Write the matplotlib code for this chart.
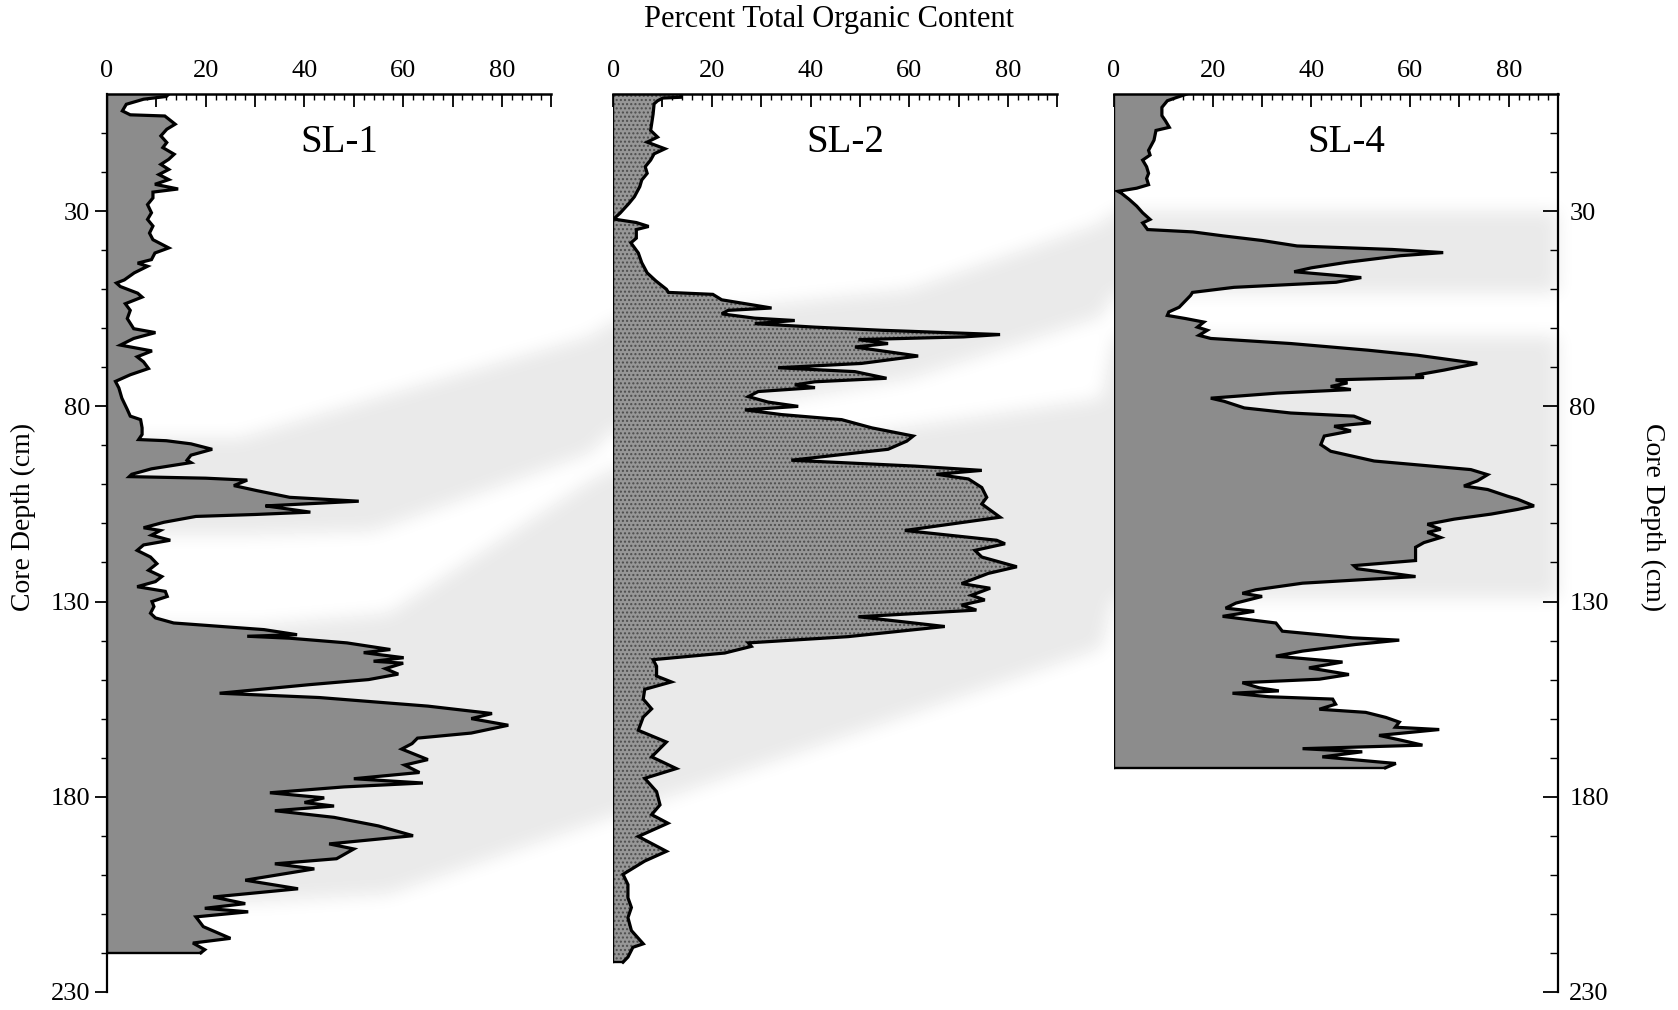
import numpy as np
import matplotlib
matplotlib.use("Agg")
import matplotlib.pyplot as plt
from matplotlib.path import Path
from matplotlib.ticker import MultipleLocator, FixedLocator, FuncFormatter, NullFormatter

plt.rcParams['font.family'] = ['Liberation Serif', 'DejaVu Serif']
plt.rcParams['hatch.linewidth'] = 1.0

# ---------------------------------------------------------------- data
# SL-1 : core depth (cm) and percent total organic content
sl1_depth = [0, 0.6, 1.3, 2.6, 4.3, 5.3, 5.6, 7.7, 9.0, 10.7, 12.4, 13.7, 15.4, 16.7, 18.0,
             19.3, 20.6, 21.9, 23.1, 24.3, 25.1, 26.6, 28.3, 30.4, 32.1, 33.8, 35.6, 37.3,
             39.4, 40.7, 42.4, 43.3, 44.1, 45.8, 47.6, 48.4, 49.3, 51.0, 52.0, 53.7, 55.4,
             57.5, 60.1, 61.1, 62.6, 64.3, 65.8, 67.3, 68.6, 70.3, 71.9, 73.6, 75.3, 77.9,
             80.8, 82.5, 83.4, 85.5, 87.2, 88.5, 88.8, 89.6, 91.0, 92.5, 93.8, 94.4, 96.0,
             97.4, 98.0, 98.4, 98.9, 100.3, 101.6, 103.3, 104.3, 105.0, 105.5, 106.0, 107.1,
             107.7, 108.2, 109.7, 111.1, 111.8, 113.0, 114.3, 115.5, 116.9, 118.6, 120.3,
             122.0, 123.6, 124.9, 126.2, 127.4, 128.7, 130.0, 131.3, 133.0, 134.2, 135.5,
             137.2, 138.5, 138.9, 139.4, 140.6, 142.3, 143.1, 144.4, 145.3, 145.8, 147.2,
             148.6, 150.0, 151.3, 153.5, 154.6, 156.8, 158.7, 160.0, 161.7, 163.7, 165.0,
             166.4, 167.8, 170.5, 171.9, 173.8, 175.4, 176.5, 177.5, 179.0, 180.3, 181.5,
             182.4, 183.6, 185.3, 187.5, 190.0, 192.1, 193.4, 195.9, 197.2, 198.5, 201.4,
             203.6, 205.7, 207.4, 208.6, 209.5, 210.8, 213.3, 216.3, 217.5, 219.2, 220.0]
sl1_toc = [12.5, 12.0, 7.4, 3.9, 3.1, 4.7, 11.7, 13.8, 12.1, 10.9, 12.1, 11.3, 13.6, 12.5, 10.9,
           12.5, 10.5, 12.5, 9.7, 14.4, 9.3, 9.3, 8.2, 9.0, 8.2, 9.3, 8.6, 9.3,
           12.5, 9.7, 9.0, 6.2, 8.2, 5.5, 3.5, 1.9, 2.7, 6.2, 7.1, 3.7, 4.7,
           4.1, 5.4, 9.8, 5.4, 2.7, 9.1, 6.1, 7.4, 8.4, 4.7, 1.7, 2.4, 3.0,
           4.1, 4.7, 6.8, 7.1, 7.1, 6.4, 12.0, 17.0, 21.3, 17.0, 16.2, 17.0, 9.0,
           5.0, 4.5, 20.0, 28.4, 25.7, 30.4, 37.0, 51.0, 40.0, 32.1, 35.0, 41.2,
           30.0, 18.0, 11.5, 7.4, 10.8, 9.0, 12.8, 7.4, 6.1, 8.8, 10.1,
           8.4, 11.1, 9.8, 6.1, 11.8, 12.2, 9.1, 9.5, 8.8, 9.8, 13.5,
           31.8, 38.5, 28.4, 37.0, 48.6, 57.4, 52.0, 60.1, 54.0, 60.0, 56.4,
           59.0, 53.0, 41.0, 22.8, 43.0, 65.0, 78.0, 73.8, 81.3, 73.8, 62.9,
           61.8, 59.7, 65.0, 60.3, 63.3, 50.0, 64.0, 48.0, 33.0, 44.0, 40.0,
           46.0, 34.0, 46.0, 55.0, 62.0, 45.0, 50.0, 46.5, 34.0, 42.0, 28.0,
           38.7, 21.5, 28.0, 19.8, 28.6, 18.0, 19.5, 25.0, 17.4, 19.8, 19.0]

# SL-2
sl2_depth = [0, 0.8, 1.0, 1.7, 2.5, 5.1, 6.8, 9.3, 11.0, 12.3, 14.0, 15.3, 16.9, 18.6, 20.3,
             22.0, 23.7, 26.3, 28.0, 30.5, 32.0, 32.9, 33.9, 34.7, 36.9, 38.1, 40.7, 43.2,
             45.8, 47.9, 50.0, 50.8, 51.3, 52.7, 54.8, 55.4, 56.3, 57.4, 58.0, 58.8, 59.7,
             60.5, 61.6, 62.2, 62.9, 63.9, 64.8, 67.1, 69.0, 70.1, 71.1, 72.8, 73.7, 74.5,
             75.2, 76.2, 77.5, 78.9, 80.0, 80.9, 82.1, 83.4, 85.5, 87.6, 88.9, 91.0, 93.8,
             95.3, 96.4, 97.4, 98.6, 100.8, 103.3, 105.0, 108.4, 111.8, 114.3, 115.2, 116.9,
             118.6, 121.1, 122.8, 125.4, 126.6, 128.4, 129.6, 130.9, 132.2, 133.9, 136.4,
             139.0, 140.6, 141.5, 143.2, 144.9, 146.6, 149.1, 150.6, 152.5, 155.0, 157.5,
             159.6, 163.0, 166.0, 169.8, 172.8, 175.3, 178.7, 182.1, 184.6, 186.8, 190.2,
             194.0, 196.5, 199.9, 202.5, 205.9, 208.4, 211.0, 214.3, 217.7, 218.6, 221.1, 222.4]
sl2_toc = [13.7, 13.7, 10.1, 9.0, 8.3, 8.1, 7.9, 7.6, 9.0, 6.9, 10.5, 8.3, 7.6, 6.5, 6.9,
           5.8, 5.4, 4.3, 3.2, 1.4, 0.1, 4.7, 7.2, 4.7, 4.7, 3.6, 5.1, 5.8,
           6.9, 8.7, 10.8, 11.2, 20.2, 22.0, 32.1, 23.3, 22.0, 28.7, 36.8, 28.7, 40.9,
           54.4, 78.4, 71.0, 49.7, 55.7, 49.0, 61.8, 50.3, 33.4, 49.0, 55.4, 40.9, 36.8,
           40.9, 29.4, 27.4, 31.4, 37.5, 26.7, 34.1, 46.3, 52.4, 60.8, 59.5, 55.7, 36.1,
           61.1, 74.7, 65.5, 72.0, 74.7, 75.7, 74.7, 78.4, 59.1, 77.7, 79.4, 73.3,
           74.7, 81.8, 76.0, 70.6, 76.4, 72.6, 75.3, 70.6, 73.6, 49.7, 67.2,
           47.6, 27.4, 28.0, 22.6, 8.1, 8.8, 8.8, 11.8, 6.4, 6.1, 7.8,
           6.1, 5.1, 10.8, 7.8, 12.8, 6.4, 8.8, 9.5, 7.8, 11.1, 5.1,
           10.8, 6.4, 2.0, 3.0, 3.0, 3.7, 3.0, 3.7, 6.1, 4.0, 3.0, 2.0]

# SL-4
sl4_depth = [0, 0.8, 1.7, 3.4, 5.5, 6.8, 8.5, 9.3, 11.8, 14.4, 15.6, 16.9, 18.6, 20.3, 21.6,
             23.2, 24.1, 24.9, 25.4, 27.0, 28.7, 30.4, 32.1, 33.0, 34.7, 35.3, 36.3, 37.5,
             38.9, 39.8, 40.6, 41.4, 43.1, 44.5, 45.5, 47.0, 48.2, 49.5, 50.8, 51.6, 53.3,
             54.6, 55.8, 56.7, 57.5, 58.4, 59.7, 60.5, 61.8, 62.6, 63.9, 65.6, 66.9, 68.2,
             69.0, 70.7, 72.0, 72.6, 73.2, 74.0, 74.9, 75.7, 76.6, 77.9, 78.7, 80.4, 81.7,
             82.5, 84.2, 85.1, 86.3, 87.6, 89.8, 91.5, 94.0, 96.2, 97.5, 99.1, 100.4, 101.3,
             103.0, 103.8, 105.5, 106.4, 107.6, 108.9, 110.2, 111.5, 112.3, 113.6, 114.9,
             116.1, 119.5, 120.8, 121.6, 123.6, 125.3, 127.0, 127.9, 128.7, 130.4, 131.7,
             132.5, 133.8, 135.5, 137.6, 139.3, 139.9, 141.0, 142.7, 144.0, 145.5, 147.0,
             148.7, 149.9, 150.8, 152.1, 152.9, 153.5, 154.4, 155.0, 156.3, 157.6, 158.4,
             159.7, 160.9, 162.2, 162.8, 164.3, 165.6, 166.8, 167.7, 168.5, 169.8, 171.5, 172.6]
sl4_toc = [14.7, 12.8, 10.8, 9.7, 9.7, 10.4, 11.2, 8.5, 8.1, 7.0, 7.3, 5.8, 6.6, 7.0, 6.6,
           7.0, 4.6, 0.8, 1.5, 3.1, 4.6, 5.8, 7.3, 5.8, 6.8, 16.0, 22.0, 30.0,
           37.1, 56.4, 66.7, 58.0, 47.1, 40.0, 36.5, 50.1, 45.0, 24.3, 15.9, 15.5, 14.2,
           13.2, 11.1, 10.8, 14.5, 18.2, 16.9, 18.9, 17.2, 19.6, 35.8, 51.4, 61.5, 68.9,
           73.6, 66.9, 61.1, 62.8, 44.9, 47.3, 43.9, 48.0, 33.1, 19.6, 22.3, 26.4, 35.8,
           48.6, 52.0, 44.6, 48.0, 42.6, 41.9, 43.9, 52.7, 72.3, 75.7, 73.6, 70.9, 75.7,
           79.7, 81.8, 85.1, 81.8, 76.4, 68.9, 63.5, 66.2, 63.5, 66.2, 62.8,
           61.1, 61.1, 48.6, 49.3, 61.1, 38.2, 28.7, 26.0, 30.0, 24.7, 22.6,
           28.4, 22.0, 32.8, 34.1, 48.3, 57.8, 49.0, 38.2, 32.8, 46.3, 39.5,
           47.6, 41.6, 26.0, 29.4, 33.4, 24.0, 31.4, 44.3, 44.9, 41.6, 51.0,
           55.1, 57.8, 57.0, 65.9, 53.7, 58.4, 62.5, 38.2, 50.3, 42.2, 57.1, 55.0]

core_names = ["SL-1", "SL-2", "SL-4"]
x_ticks_labelled = [0, 20, 40, 60, 80]
depth_ticks = [30, 80, 130, 180, 230]

# correlation bands: (core index, % position, top depth, bottom depth)
upper_band = [(2, 90, 30, 51), (2, 0, 30, 51), (1, 99, 33, 57), (1, 60, 50, 73),
              (1, 0, 58, 86), (0, 98, 62, 92), (0, 54, 78, 112), (0, 27, 88, 113),
              (0, 3, 88, 113)]
lower_band = [(2, 90, 62, 129), (2, 0, 62, 129), (1, 99, 78, 142), (1, 0, 96, 185),
              (0, 98, 99, 187), (0, 57, 133, 205), (0, 30, 136, 207), (0, 3, 136, 207)]

# ---------------------------------------------------------------- figure
W, H = 1678, 1010
fig = plt.figure(figsize=(W / 100, H / 100), dpi=100)
fig.patch.set_facecolor('white')

lefts = [0.0638, 0.3654, 0.6639]
width, bottom, height = 0.2647, 0.0180, 0.8888

axes = []
for i, left in enumerate(lefts):
    ax = fig.add_axes([left, bottom, width, height], zorder=2)
    ax.set_xlim(0, 90)
    ax.set_ylim(230, 0)
    ax.patch.set_alpha(0)
    axes.append(ax)

# background layer for the soft correlation bands
bg = fig.add_axes([0, 0, 1, 1], zorder=0)
bg.set_xlim(0, W)
bg.set_ylim(0, H)
bg.axis('off')


def band_path(anchors):
    top, bot = [], []
    for idx, x, d0, d1 in anchors:
        tr = axes[idx].transData
        top.append(tr.transform((x, d0)))
        bot.append(tr.transform((x, d1)))
    return Path(np.vstack([top, bot[::-1]]))


def box_blur(a, r, axis):
    pad = [(0, 0), (0, 0)]
    pad[axis] = (r + 1, r)
    p = np.pad(a, pad, mode='edge')
    c = np.cumsum(p, axis=axis)
    if axis == 0:
        return (c[2 * r + 1:] - c[:-2 * r - 1]) / (2 * r + 1)
    return (c[:, 2 * r + 1:] - c[:, :-2 * r - 1]) / (2 * r + 1)


gx, gy = np.meshgrid(np.arange(W) + 0.5, np.arange(H) + 0.5)
pts = np.column_stack([gx.ravel(), gy.ravel()])
mask = np.zeros(H * W)
for band in (upper_band, lower_band):
    mask = np.maximum(mask, band_path(band).contains_points(pts).astype(float))
mask = mask.reshape(H, W)
for _ in range(3):
    mask = box_blur(mask, 8, 0)
    mask = box_blur(mask, 8, 1)
shade = 1.0 - 0.085 * mask
bg.imshow(shade, cmap='gray', vmin=0, vmax=1, origin='lower', extent=(0, W, 0, H),
          aspect='auto', interpolation='bilinear', zorder=0)

# ---------------------------------------------------------------- profiles
profiles = [(sl1_depth, sl1_toc), (sl2_depth, sl2_toc), (sl4_depth, sl4_toc)]
for i, (ax, (d, v)) in enumerate(zip(axes, profiles)):
    d = np.asarray(d, float)
    v = np.asarray(v, float)
    if i == 1:
        ax.fill_betweenx(d, 0, v, facecolor='#979797', edgecolor='#4d4d4d',
                         hatch='....', linewidth=0, zorder=2)
    else:
        ax.fill_betweenx(d, 0, v, facecolor='#8c8c8c', linewidth=0, zorder=2)
    ax.plot(v, d, color='black', lw=2.3, solid_joinstyle='miter', zorder=3)
    # outline along the zero line and the base of the core
    ax.plot([0, 0], [0, d[-1]], color='black', lw=1.7, zorder=3)
    ax.plot([0, v[-1]], [d[-1], d[-1]], color='black', lw=1.7, zorder=3)
    ax.text(47, 12.3, core_names[i], ha='center', va='center', fontsize=28, zorder=4)

    # top axis
    ax.xaxis.tick_top()
    ax.xaxis.set_major_locator(MultipleLocator(10))
    ax.xaxis.set_minor_locator(MultipleLocator(2))
    ax.xaxis.set_major_formatter(FuncFormatter(
        lambda x, pos: f"{int(round(x))}" if int(round(x)) in x_ticks_labelled else ""))
    ax.tick_params(axis='x', which='major', direction='in', length=9, width=1.3,
                   labelsize=19, pad=9)
    ax.tick_params(axis='x', which='minor', direction='in', length=4.5, width=1.0)
    for s in ('bottom', 'right', 'left'):
        ax.spines[s].set_visible(False)
    ax.spines['top'].set_linewidth(1.8)

    minor_depths = [m for m in range(10, 231, 10) if m not in depth_ticks]
    if i == 0:
        ax.spines['left'].set_visible(True)
        ax.spines['left'].set_linewidth(1.6)
        ax.yaxis.set_major_locator(FixedLocator(depth_ticks))
        ax.yaxis.set_minor_locator(FixedLocator(minor_depths))
        ax.yaxis.set_minor_formatter(NullFormatter())
        ax.tick_params(axis='y', which='major', direction='out', length=9, width=1.3,
                       labelsize=19, pad=3)
        ax.tick_params(axis='y', which='minor', direction='out', length=4.5, width=1.0)
    elif i == 2:
        ax.spines['right'].set_visible(True)
        ax.spines['right'].set_linewidth(1.6)
        ax.yaxis.tick_right()
        ax.yaxis.set_major_locator(FixedLocator(depth_ticks))
        ax.yaxis.set_minor_locator(FixedLocator(minor_depths))
        ax.yaxis.set_minor_formatter(NullFormatter())
        ax.tick_params(axis='y', which='major', direction='in', length=11, width=1.3,
                       labelsize=19, pad=8)
        ax.tick_params(axis='y', which='minor', direction='in', length=6, width=1.0)
    else:
        ax.set_yticks([])

fig.text(0.494, 0.981, "Percent Total Organic Content", ha='center', va='center',
         fontsize=22)
fig.text(0.014, 0.488, "Core Depth (cm)", ha='center', va='center', rotation=90,
         fontsize=20)
fig.text(0.985, 0.488, "Core Depth (cm)", ha='center', va='center', rotation=270,
         fontsize=20)

fig.savefig("out.png", dpi=100, facecolor='white')
